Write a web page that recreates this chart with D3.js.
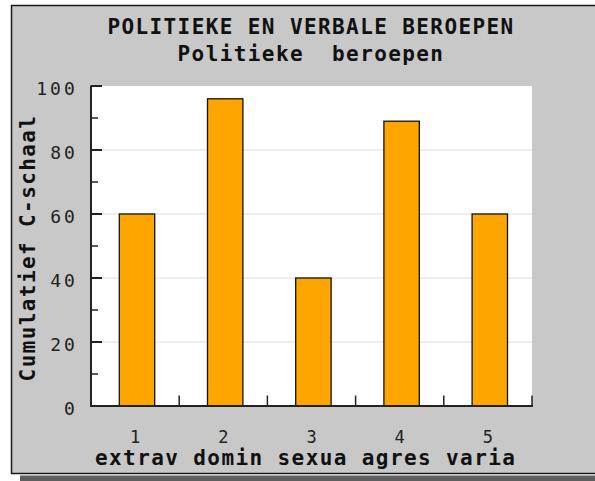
<!DOCTYPE html>
<html>
<head>
<meta charset="utf-8">
<script src="https://cdn.jsdelivr.net/npm/d3@7"></script>
<style>
  body { margin: 0; background: #fff; }
  svg text { font-family: "DejaVu Sans Mono", monospace; }
</style>
</head>
<body>
<div id="chart"></div>
<script>
// chart data
var codes = ['1', '2', '3', '4', '5'];
var categories = ['extrav', 'domin', 'sexua', 'agres', 'varia'];
var values = [60, 96, 40, 89, 60];
var yTicks = [0, 20, 40, 60, 80, 100];
var yMinorTicks = [10, 30, 50, 70, 90];

var titleLines = ['POLITIEKE EN VERBALE BEROEPEN', 'Politieke  beroepen'];
var yLabel = 'Cumulatief C-schaal';

var W = 595, H = 481;
var plot = {left: 91, right: 532, top: 86, bottom: 406};

var svg = d3.select('#chart').append('svg')
    .attr('width', W)
    .attr('height', H);

// frame + drop shadow
svg.append('rect')
    .attr('x', 20).attr('y', 475.5)
    .attr('width', W).attr('height', 10)
    .attr('fill', '#5e5e5e');
svg.append('rect')
    .attr('x', 11.5).attr('y', 5.5)
    .attr('width', W).attr('height', 468)
    .attr('fill', '#c8c8c8')
    .attr('stroke', '#1a1a1a')
    .attr('stroke-width', 1.5);

// titles
svg.selectAll('text.title')
  .data(titleLines)
  .enter()
  .append('text')
    .attr('class', 'title')
    .attr('x', 311)
    .attr('y', (d, i) => i === 0 ? 34.3 : 60.7)
    .attr('text-anchor', 'middle')
    .style('font-size', '21px')
    .style('font-weight', 'bold')
    .style('letter-spacing', '1.4px')
    .style('white-space', 'pre')
    .attr('fill', '#111')
    .text(d => d);

// scales
var x = d3.scaleBand()
    .domain(codes)
    .range([plot.left, plot.right]);

var y = d3.scaleLinear()
    .domain([0, 100])
    .range([plot.bottom, plot.top]);

var barW = 35.4;

// plot area
svg.append('rect')
    .attr('x', plot.left).attr('y', plot.top)
    .attr('width', plot.right - plot.left)
    .attr('height', plot.bottom - plot.top)
    .attr('fill', '#fff');

// grid
svg.append('g')
    .attr('class', 'grid')
  .selectAll('line')
  .data(yTicks.filter(d => d > 0 && d < 100))
  .enter()
  .append('line')
    .attr('x1', plot.left).attr('x2', plot.right)
    .attr('y1', d => y(d)).attr('y2', d => y(d))
    .attr('stroke', '#dcdcdc')
    .attr('stroke-width', 1);

// bars
svg.append('g')
    .attr('class', 'bars')
  .selectAll('rect')
  .data(values)
  .enter()
  .append('rect')
    .attr('x', (d, i) => x(codes[i]) + (x.bandwidth() - barW) / 2 + 1.9)
    .attr('y', d => y(d))
    .attr('width', barW)
    .attr('height', d => y(0) - y(d))
    .attr('fill', '#ffa500')
    .attr('stroke', '#111')
    .attr('stroke-width', 1.3);

// y axis: line, inward ticks, labels
var yAxis = svg.append('g').attr('class', 'y-axis');
yAxis.append('line')
    .attr('x1', plot.left).attr('x2', plot.left)
    .attr('y1', plot.top - 0.5).attr('y2', plot.bottom + 1)
    .attr('stroke', '#222').attr('stroke-width', 2);
yAxis.selectAll('line.major')
  .data(yTicks)
  .enter()
  .append('line')
    .attr('class', 'major')
    .attr('x1', plot.left).attr('x2', plot.left + 11)
    .attr('y1', d => y(d)).attr('y2', d => y(d))
    .attr('stroke', '#222').attr('stroke-width', 2);
yAxis.selectAll('line.minor')
  .data(yMinorTicks)
  .enter()
  .append('line')
    .attr('class', 'minor')
    .attr('x1', plot.left).attr('x2', plot.left + 7)
    .attr('y1', d => y(d)).attr('y2', d => y(d))
    .attr('stroke', '#222').attr('stroke-width', 1.5);
yAxis.selectAll('text')
  .data(yTicks)
  .enter()
  .append('text')
    .attr('x', 78)
    .attr('y', d => y(d) + 8.5)
    .attr('text-anchor', 'end')
    .style('font-size', '18px')
    .style('letter-spacing', '3.1px')
    .attr('fill', '#222')
    .text(d => d);

// x axis: line, upward ticks at band edges, labels
var xAxis = svg.append('g').attr('class', 'x-axis');
xAxis.append('line')
    .attr('x1', plot.left - 1).attr('x2', plot.right + 1)
    .attr('y1', plot.bottom).attr('y2', plot.bottom)
    .attr('stroke', '#222').attr('stroke-width', 2);
xAxis.selectAll('line.tick')
  .data(codes)
  .enter()
  .append('line')
    .attr('class', 'tick')
    .attr('x1', d => x(d) + x.step()).attr('x2', d => x(d) + x.step())
    .attr('y1', plot.bottom).attr('y2', plot.bottom - 10.5)
    .attr('stroke', '#222').attr('stroke-width', 1.5);
xAxis.selectAll('text.code')
  .data(codes)
  .enter()
  .append('text')
    .attr('class', 'code')
    .attr('x', d => x(d) + x.bandwidth() / 2)
    .attr('y', 443)
    .attr('text-anchor', 'middle')
    .style('font-size', '17px')
    .attr('fill', '#222')
    .text(d => d);
xAxis.append('text')
    .attr('class', 'cats')
    .attr('x', 95)
    .attr('y', 464.5)
    .style('font-size', '21px')
    .style('font-weight', 'bold')
    .style('letter-spacing', '1.4px')
    .style('white-space', 'pre')
    .attr('fill', '#111')
    .text(categories.join(' '));

// y label
svg.append('text')
    .attr('transform', 'translate(34.5,248) rotate(-90)')
    .attr('text-anchor', 'middle')
    .style('font-size', '21px')
    .style('font-weight', 'bold')
    .style('letter-spacing', '1.4px')
    .attr('fill', '#111')
    .text(yLabel);
</script>
</body>
</html>
